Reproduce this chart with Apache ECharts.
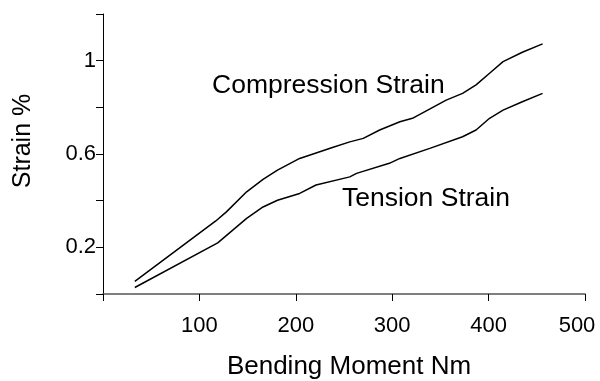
<!DOCTYPE html>
<html>
<head>
<meta charset="utf-8">
<script src="https://cdn.jsdelivr.net/npm/echarts@6/dist/echarts.min.js"></script>
<style>html,body{margin:0;padding:0;background:#fff}#c{width:600px;height:381px}</style>
</head>
<body>
<div id="c"></div>
<script>
// Bending moment (Nm), strain (%)
const compressionX = [33, 117, 128, 149, 166, 181, 204, 238, 256, 270, 287, 308, 321, 356, 373, 387, 401, 415, 435, 456];
const compressionY = [0.054, 0.313, 0.352, 0.438, 0.491, 0.531, 0.581, 0.628, 0.652, 0.667, 0.703, 0.738, 0.753, 0.831, 0.860, 0.896, 0.946, 0.996, 1.036, 1.072];
const tensionX = [33, 119, 149, 166, 181, 204, 221, 256, 263, 297, 308, 339, 373, 387, 401, 415, 435, 456];
const tensionY = [0.028, 0.219, 0.324, 0.373, 0.402, 0.431, 0.467, 0.502, 0.517, 0.560, 0.581, 0.624, 0.674, 0.703, 0.753, 0.788, 0.824, 0.860];
const yLabels = ['0.2', '0.6', '1'];
const xLabels = ['100', '200', '300', '400', '500'];
const annotations = [
  { text: 'Compression Strain', left: 212, top: 72 },
  { text: 'Tension Strain', left: 342, top: 185 }
];

const FONT = '"Liberation Sans", Arial, sans-serif';
const chart = echarts.init(document.getElementById('c'), null, { renderer: 'canvas' });
const pair = (xs, ys) => xs.map((x, i) => [x, ys[i]]);
const lastX = xLabels[xLabels.length - 1];

chart.setOption({
  animation: false,
  backgroundColor: '#fff',
  grid: { left: 103, right: 15, top: 14, bottom: 87, containLabel: false, outerBoundsMode: 'none' },
  xAxis: {
    type: 'value', min: 0, max: 500, interval: 100,
    name: 'Bending Moment Nm', nameLocation: 'middle', nameGap: 60,
    nameTextStyle: { fontFamily: FONT, fontSize: 26, color: '#000', padding: [0, 0, 0, 10] },
    axisLine: { show: true, lineStyle: { color: '#555', width: 1.5 } },
    axisTick: { show: true, length: 7, lineStyle: { color: '#000' } },
    axisLabel: {
      fontFamily: FONT, fontSize: 22, color: '#000', margin: 21,
      formatter: v => {
        const s = String(Math.round(v));
        if (!xLabels.includes(s)) return '';
        return s === lastX ? '{end|' + s + '}' : s;
      },
      rich: { end: { fontFamily: FONT, fontSize: 22, color: '#000', padding: [0, 16, 0, 0] } }
    },
    splitLine: { show: false }
  },
  yAxis: {
    type: 'value', min: 0, max: 1.2, interval: 0.2,
    name: 'Strain %', nameLocation: 'middle', nameGap: 67, nameRotate: 90,
    nameTextStyle: { fontFamily: FONT, fontSize: 25, color: '#000', padding: [0, 0, 0, 26] },
    axisLine: { show: true, lineStyle: { color: '#000', width: 1 } },
    axisTick: { show: true, length: 7, lineStyle: { color: '#000' } },
    axisLabel: {
      fontFamily: FONT, fontSize: 22, color: '#000', margin: 7,
      formatter: v => { const s = String(Math.round(v * 10) / 10); return yLabels.includes(s) ? s : ''; }
    },
    splitLine: { show: false }
  },
  series: [
    { name: 'Compression Strain', type: 'line', data: pair(compressionX, compressionY), showSymbol: false, symbol: 'none',
      lineStyle: { color: '#000', width: 1.5 } },
    { name: 'Tension Strain', type: 'line', data: pair(tensionX, tensionY), showSymbol: false, symbol: 'none',
      lineStyle: { color: '#000', width: 1.5 } }
  ],
  graphic: annotations.map(a => ({
    type: 'text', left: a.left, top: a.top,
    style: { text: a.text, fontFamily: FONT, fontSize: 26.5, fill: '#000' }
  }))
});
</script>
</body>
</html>
